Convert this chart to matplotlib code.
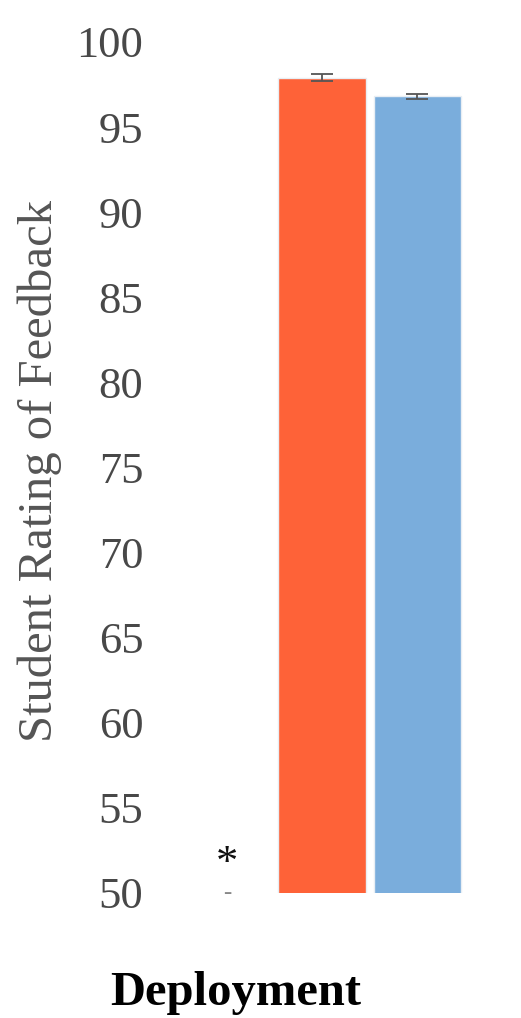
import matplotlib
matplotlib.use("Agg")
import matplotlib.pyplot as plt

# Ratings per deployment group
positions = [1, 2]
ratings = [97.9, 96.8]
errors = [0.2, 0.15]
bar_colors = ["#FE6238", "#7AADDC"]
y_ticks = [50, 55, 60, 65, 70, 75, 80, 85, 90, 95, 100]

# significance marker column
marker_pos = 0
marker_star_y = 51.7
marker_dash_y = 50.0

W, H, DPI = 521, 1018, 100
fig = plt.figure(figsize=(W / DPI, H / DPI), dpi=DPI)
ax = fig.add_axes([160 / W, 125 / H, 310 / W, 851 / H])

serif = ["Liberation Serif", "DejaVu Serif"]

ax.bar(positions, ratings, width=0.92, color=bar_colors,
       edgecolor="#E8EEF4", linewidth=1.0, zorder=2)
ax.errorbar(positions, ratings, yerr=errors, fmt="none", ecolor="#555555",
            elinewidth=1.3, capsize=8.0, capthick=1.3, zorder=3)

ax.text(marker_pos, marker_star_y, "*", ha="center", va="center",
        fontsize=32, family=serif, color="#111111")
ax.text(marker_pos, marker_dash_y, "-", ha="center", va="center",
        fontsize=18, family=serif, color="#888888")

ax.set_ylim(50, 100)
ax.set_xlim(-0.705, 2.553)
ax.set_yticks(y_ticks)
ax.set_yticklabels([str(t) for t in y_ticks], family=serif, fontsize=32,
                   color="#484848")
ax.set_xticks([])
ax.tick_params(axis="y", length=0, pad=12)
for s in ax.spines.values():
    s.set_visible(False)

fig.text(40 / W, 1 - 471 / H, "Student Rating of Feedback", rotation=90,
         ha="center", va="center", family=serif, fontsize=35,
         color="#555555")

fig.text(236 / W, 1 - 993 / H, "Deployment", ha="center", va="center",
         family=serif, fontsize=35, fontweight="bold", color="#000000")

fig.savefig("out.png", dpi=DPI)
